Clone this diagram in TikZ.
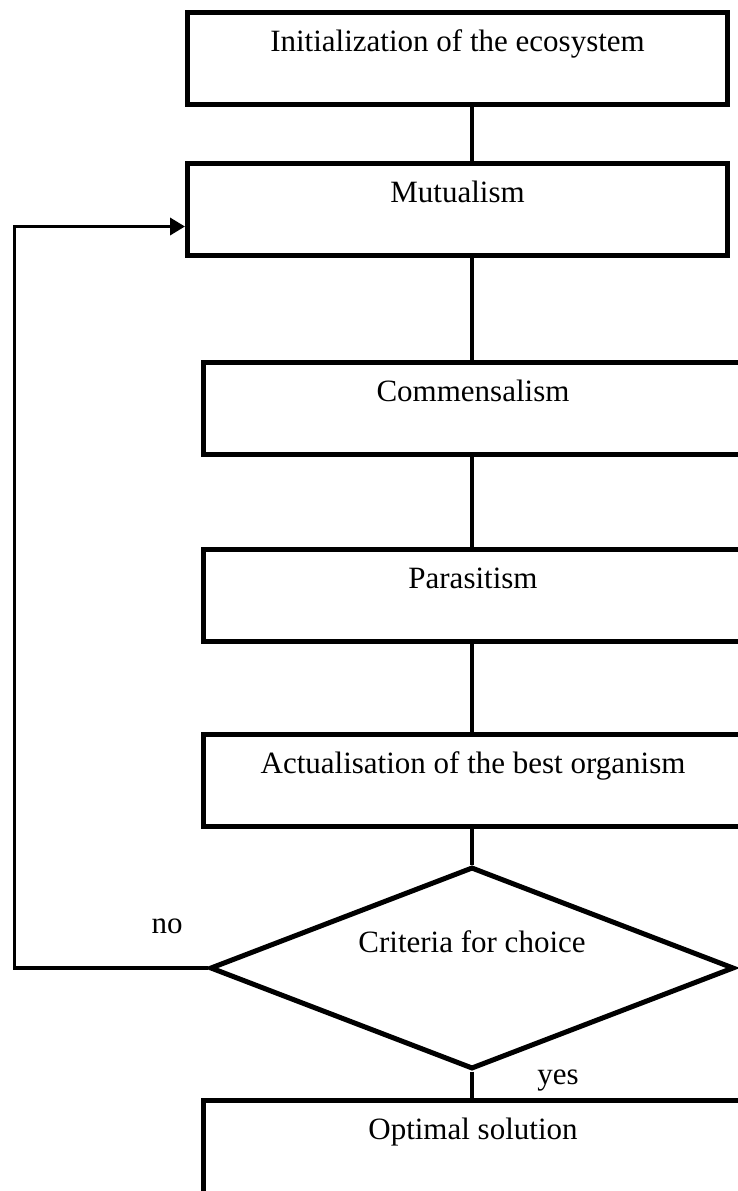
\documentclass[tikz,border=0pt]{standalone}
\usepackage{fontspec}
\setmainfont{Liberation Serif}
\usepackage{tikz}
\usetikzlibrary{shapes.geometric,arrows.meta}

\begin{document}
\begin{tikzpicture}[x=1pt,y=-1pt,
  stage/.style={draw,line width=5pt,minimum width=540pt,minimum height=92pt,inner sep=0pt,
    font=\fontsize{31pt}{37pt}\selectfont,text height=22pt,text depth=36pt},
  choice/.style={draw,diamond,aspect=2.6,line width=5pt,minimum width=524pt,minimum height=202pt,
    inner sep=0pt,font=\fontsize{31pt}{37pt}\selectfont,text height=22pt,text depth=54pt},
  link/.style={line width=4pt},
  answer/.style={font=\fontsize{31pt}{37pt}\selectfont,anchor=base}]
\useasboundingbox (0,0) rectangle (738,1191);
\clip (0,0) rectangle (738,1191);

% Stages
\node[stage] (init) at (457.5,58) {Initialization of the ecosystem};
\node[stage] (mut) at (457.5,209.5) {Mutualism};
\node[stage] (com) at (473,408) {Commensalism};
\node[stage] (par) at (473,595.5) {Parasitism};
\node[stage] (act) at (473,780.5) {Actualisation of the best organism};
\node[choice] (crit) at (472,968) {Criteria for choice};
\node[stage,minimum height=100pt,text depth=44pt] (opt) at (473,1150) {Optimal solution};

% Connectors
\draw[link] (init.south -| crit.north) -- (mut.north -| crit.north);
\draw[link] (mut.south -| crit.north) -- (com.north -| crit.north);
\draw[link] (com.south -| crit.north) -- (par.north -| crit.north);
\draw[link] (par.south -| crit.north) -- (act.north -| crit.north);
\draw[link] (act.south -| crit.north) -- (crit.north);
\draw[link] (crit.south) -- (opt.north -| crit.south);

% Loop back
\coordinate (back) at (14.5,0);
\coordinate (entry) at ([yshift=-17pt]mut.west);
\draw[line width=3.5pt,-{Triangle[length=15pt,width=17pt]}] (crit.west) -- (crit.west -| back) -- (entry -| back) -- (entry);

% Labels
\node[answer] (no) at (167,933) {no};
\node[answer] (yes) at (558,1084) {yes};

\end{tikzpicture}
\end{document}
